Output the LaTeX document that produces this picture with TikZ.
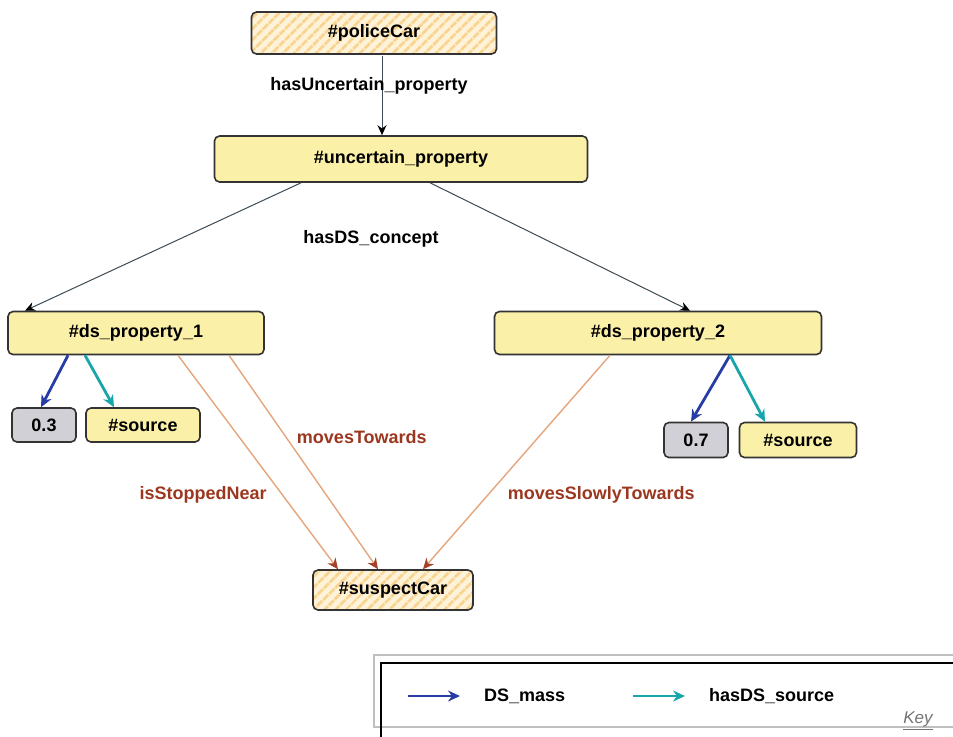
\documentclass[tikz,border=0pt]{standalone}
\usepackage{fontspec}
\setmainfont{Liberation Sans}
\usetikzlibrary{arrows,arrows.meta,calc,patterns.meta}
\definecolor{boxfill}{RGB}{251,240,168}
\definecolor{hatchbg}{RGB}{254,243,216}
\definecolor{hatchline}{RGB}{249,212,145}
\definecolor{massgray}{RGB}{208,208,214}
\definecolor{massblue}{RGB}{40,60,165}
\definecolor{srcteal}{RGB}{25,165,170}
\definecolor{relline}{RGB}{228,165,125}
\definecolor{reltip}{RGB}{165,65,40}
\definecolor{reltext}{RGB}{155,55,30}
\definecolor{linkgray}{RGB}{60,75,85}

\begin{document}
\begin{tikzpicture}[x=0.5pt,y=-0.5pt]
\tikzset{>=stealth',
  box/.style={draw=black!80,line width=0.8pt,rounded corners=2.5pt,fill=boxfill,inner sep=0pt,font=\fontsize{9}{11}\selectfont\bfseries},
  hatched/.style={box,preaction={fill=hatchbg},pattern={Lines[angle=45,distance=4pt,line width=1.5pt]},pattern color=hatchline},
  value/.style={box,fill=massgray},
  lbl/.style={text=black,font=\fontsize{9}{11}\selectfont\bfseries},
  rellbl/.style={lbl,text=reltext},
  link/.style={linkgray,line width=0.5pt,-{Stealth[color=black,length=5pt,width=4.5pt]}},
  rel/.style={relline,line width=0.7pt,-{Stealth[color=reltip,length=5.5pt,width=5pt]}},
  mass/.style={massblue,line width=1.4pt,-{Stealth[length=6pt,width=5.5pt]}},
  src/.style={srcteal,line width=1.4pt,-{Stealth[length=6pt,width=5.5pt]}}}
\useasboundingbox (0,0) rectangle (953,736);
\clip (0,0) rectangle (953,736);

% resources
\node[hatched,minimum width=122.5pt,minimum height=21pt] (police) at (374,33) {\#policeCar};
\node[box,minimum width=186.5pt,minimum height=23pt] (unc) at (401,159) {\#uncertain\_property};
\node[box,minimum width=128pt,minimum height=21.5pt] (ds1) at (136,333) {\#ds\_property\_1};
\node[box,minimum width=163.5pt,minimum height=21.5pt] (ds2) at (658,333) {\#ds\_property\_2};
\node[value,minimum width=32pt,minimum height=17pt] (m1) at (44,425) {0.3};
\node[box,minimum width=57pt,minimum height=17pt] (s1) at (143,425) {\#source};
\node[value,minimum width=32pt,minimum height=17.5pt] (m2) at (696,440) {0.7};
\node[box,minimum width=58.5pt,minimum height=17.5pt] (s2) at (798,440) {\#source};
\node[hatched,minimum width=80pt,minimum height=20pt] (suspect) at (393,590) {\#suspectCar};

% properties
\draw[link] ($(police.south)+(8,0)$) -- node[lbl,pos=0.38,xshift=-6.5pt] {hasUncertain\_property} ($(unc.north)+(-19,0)$);
\draw[link] ($(unc.south)+(-100,0)$) -- ($(ds1.north)+(-111,0)$);
\draw[link] ($(unc.south)+(29,0)$) -- ($(ds2.north)+(32,0)$);
\node[lbl] (concept) at (371,239) {hasDS\_concept};

\draw[mass] ($(ds1.south)+(-68,0)$) -- ($(m1.north)+(-3,0)$);
\draw[src] ($(ds1.south)+(-51,0)$) -- ($(s1.north)+(-29,0)$);
\draw[mass] ($(ds2.south)+(72,0)$) -- ($(m2.north)+(-5,0)$);
\draw[src] ($(ds2.south)+(72,0)$) -- ($(s2.north)+(-33,0)$);

\draw[rel] ($(ds1.south)+(42,0)$) -- node[rellbl,left,pos=0.65,xshift=-4pt] {isStoppedNear} ($(suspect.north)+(-55,0)$);
\draw[rel] ($(ds1.south)+(93,0)$) -- node[rellbl,right,pos=0.38,xshift=2pt] {movesTowards} ($(suspect.north)+(-15,0)$);
\draw[rel] ($(ds2.south)+(-48,0)$) -- node[rellbl,right,pos=0.65,xshift=6pt] {movesSlowlyTowards} ($(suspect.north)+(30,0)$);

% key
\draw[black!25,line width=0.8pt] (374,655) rectangle (970,727);
\draw[black,line width=1pt] (381,663) rectangle (970,760);
\coordinate (kmA) at (408,696);
\coordinate (kmB) at (460,696);
\coordinate (ksA) at (633,696);
\coordinate (ksB) at (685,696);
\draw[mass] (kmA) -- (kmB);
\draw[src] (ksA) -- (ksB);
\node[lbl,right] (kmass) at (477,696) {DS\_mass};
\node[lbl,right] (ksource) at (702,696) {hasDS\_source};
\node[font=\fontsize{8.5}{10}\selectfont\itshape,text=black!55] (key) at (918,721) {\underline{Key}};
\end{tikzpicture}
\end{document}
